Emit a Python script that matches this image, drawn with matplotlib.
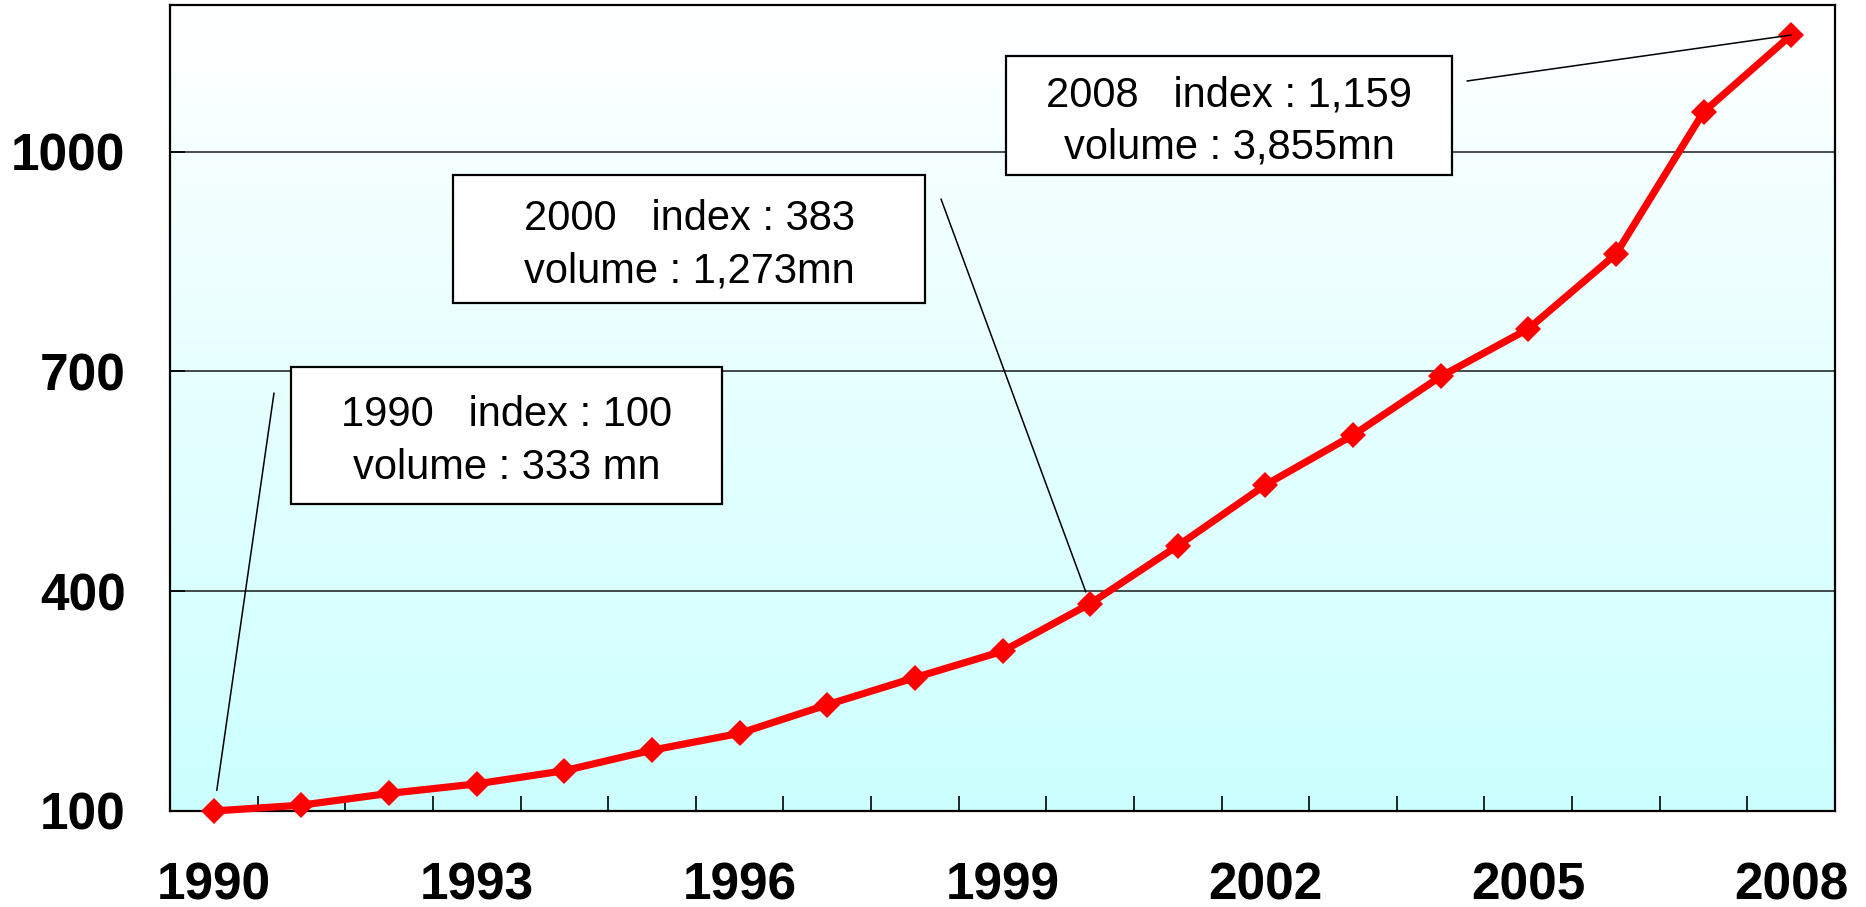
"""Index of traffic volume 1990-2008"""

import numpy as np
import matplotlib.pyplot as plt
from matplotlib.patches import Rectangle
from matplotlib.colors import LinearSegmentedColormap

years = list(range(1990, 2009))
index_values = [100, 108, 124, 137, 155, 183, 206, 245, 282, 318,
                383, 462, 545, 613, 693, 758, 860, 1054, 1159]

label_years = [1990, 2000, 2008]
label_volumes = ["333 mn", "1,273mn", "3,855mn"]

xtick_years = [1990, 1993, 1996, 1999, 2002, 2005, 2008]
ytick_values = [100, 400, 700, 1000]

W, H = 1866, 907

# callout layout in figure pixels (top-left origin): box, leader start, leader shrink
callouts = {
    1990: {"box": (291, 367, 722, 504), "start": (274, 393), "shrink": 15},
    2000: {"box": (453, 175, 925, 303), "start": (941, 199), "shrink": 9},
    2008: {"box": (1006, 56, 1452, 175), "start": (1467, 81), "shrink": 0},
}

fig = plt.figure(figsize=(W / 100, H / 100), dpi=100)
ax = fig.add_axes([170 / W, 1 - 811 / H, (1835 - 170) / W, (811 - 5) / H])

x0, x1 = years[0] - 0.5, years[-1] + 0.5
y0, y1 = 100, 1200
ax.set_xlim(x0, x1)
ax.set_ylim(y0, y1)

# white-to-cyan background
bg = LinearSegmentedColormap.from_list("bg", ["#CCFFFF", "#FFFFFF"])
ax.imshow(np.linspace(0, 1, 256).reshape(-1, 1), cmap=bg, origin="lower",
          extent=[x0, x1, y0, y1], aspect="auto", zorder=0)

for v in ytick_values[1:]:
    ax.axhline(v, color="#1a1a1a", lw=1.1, zorder=1)

ax.plot(years, index_values, color="#FF0000", lw=5.2, marker="D", markersize=13.5,
        markeredgewidth=0, zorder=3, clip_on=False)

for s in ax.spines.values():
    s.set_linewidth(1.6)
    s.set_color("black")

tick_font = {"family": "Liberation Sans", "weight": "bold", "size": 37}
ax.set_xticks(xtick_years)
ax.set_xticklabels([str(y) for y in xtick_years], fontdict=tick_font)
ax.set_xticks([y + 0.5 for y in years[:-1]], minor=True)
ax.tick_params(axis="x", which="major", length=0, pad=36)
ax.tick_params(axis="x", which="minor", direction="in", length=11, width=1.2)
ax.set_yticks(ytick_values)
ax.set_yticklabels([str(v) for v in ytick_values], fontdict=tick_font)
ax.tick_params(axis="y", direction="in", length=11, width=1.2, pad=32)

for yr, vol in zip(label_years, label_volumes):
    c = callouts[yr]
    bx0, by0, bx1, by1 = c["box"]
    fig.add_artist(Rectangle((bx0 / W, 1 - by1 / H), (bx1 - bx0) / W, (by1 - by0) / H,
                             transform=fig.transFigure, facecolor="white",
                             edgecolor="black", lw=1.6, zorder=5))
    idx = index_values[years.index(yr)]
    text = f"{yr}   index : {idx:,}\nvolume : {vol}"
    fig.text((bx0 + bx1) / 2 / W, 1 - ((by0 + by1) / 2 + 6) / H, text,
             ha="center", va="center", fontsize=30, linespacing=1.4,
             family="Liberation Sans", zorder=6)
    sx, sy = c["start"]
    ax.annotate("", xy=(yr, idx), xycoords="data",
                xytext=(sx, H - sy), textcoords="figure pixels",
                arrowprops={"arrowstyle": "-", "color": "black", "lw": 1.1,
                            "shrinkA": 0, "shrinkB": c["shrink"]},
                zorder=4)

plt.savefig("out.png", dpi=100)
